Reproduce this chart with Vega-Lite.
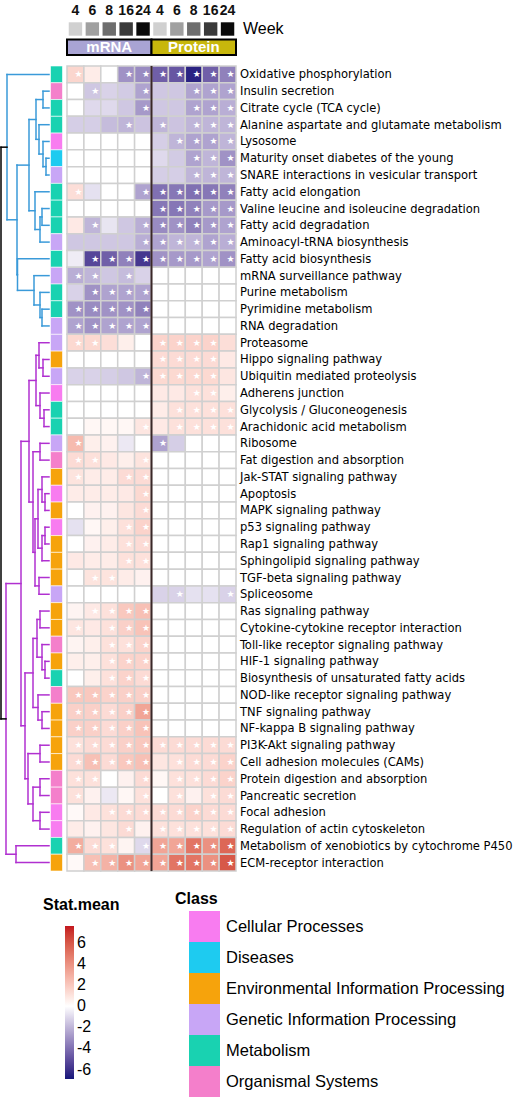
{
"$schema": "https://vega.github.io/schema/vega-lite/v6.json",
"width": 520, "height": 1098, "padding": 0, "autosize": {"type": "none"},
"background": "white",
"config": {"view": {"stroke": null}, "font": "Liberation Sans"},
"datasets": {
"paths": [
{"i":1,"p":"Oxidative phosphorylation","c":"Metabolism"},
{"i":2,"p":"Insulin secretion","c":"Organismal Systems"},
{"i":3,"p":"Citrate cycle (TCA cycle)","c":"Metabolism"},
{"i":4,"p":"Alanine  aspartate and glutamate metabolism","c":"Metabolism"},
{"i":5,"p":"Lysosome","c":"Cellular Processes"},
{"i":6,"p":"Maturity onset diabetes of the young","c":"Diseases"},
{"i":7,"p":"SNARE interactions in vesicular transport","c":"Genetic Information Processing"},
{"i":8,"p":"Fatty acid elongation","c":"Metabolism"},
{"i":9,"p":"Valine leucine and isoleucine degradation","c":"Metabolism"},
{"i":10,"p":"Fatty acid degradation","c":"Metabolism"},
{"i":11,"p":"Aminoacyl-tRNA biosynthesis","c":"Genetic Information Processing"},
{"i":12,"p":"Fatty acid biosynthesis","c":"Metabolism"},
{"i":13,"p":"mRNA surveillance pathway","c":"Genetic Information Processing"},
{"i":14,"p":"Purine metabolism","c":"Metabolism"},
{"i":15,"p":"Pyrimidine metabolism","c":"Metabolism"},
{"i":16,"p":"RNA degradation","c":"Genetic Information Processing"},
{"i":17,"p":"Proteasome","c":"Genetic Information Processing"},
{"i":18,"p":"Hippo signaling pathway","c":"Environmental Information Processing"},
{"i":19,"p":"Ubiquitin mediated proteolysis","c":"Genetic Information Processing"},
{"i":20,"p":"Adherens junction","c":"Cellular Processes"},
{"i":21,"p":"Glycolysis / Gluconeogenesis","c":"Metabolism"},
{"i":22,"p":"Arachidonic acid metabolism","c":"Metabolism"},
{"i":23,"p":"Ribosome","c":"Genetic Information Processing"},
{"i":24,"p":"Fat digestion and absorption","c":"Organismal Systems"},
{"i":25,"p":"Jak-STAT signaling pathway","c":"Environmental Information Processing"},
{"i":26,"p":"Apoptosis","c":"Cellular Processes"},
{"i":27,"p":"MAPK signaling pathway","c":"Environmental Information Processing"},
{"i":28,"p":"p53 signaling pathway","c":"Cellular Processes"},
{"i":29,"p":"Rap1 signaling pathway","c":"Environmental Information Processing"},
{"i":30,"p":"Sphingolipid signaling pathway","c":"Environmental Information Processing"},
{"i":31,"p":"TGF-beta signaling pathway","c":"Environmental Information Processing"},
{"i":32,"p":"Spliceosome","c":"Genetic Information Processing"},
{"i":33,"p":"Ras signaling pathway","c":"Environmental Information Processing"},
{"i":34,"p":"Cytokine-cytokine receptor interaction","c":"Environmental Information Processing"},
{"i":35,"p":"Toll-like receptor signaling pathway","c":"Organismal Systems"},
{"i":36,"p":"HIF-1 signaling pathway","c":"Environmental Information Processing"},
{"i":37,"p":"Biosynthesis of unsaturated fatty acids","c":"Metabolism"},
{"i":38,"p":"NOD-like receptor signaling pathway","c":"Organismal Systems"},
{"i":39,"p":"TNF signaling pathway","c":"Environmental Information Processing"},
{"i":40,"p":"NF-kappa B signaling pathway","c":"Environmental Information Processing"},
{"i":41,"p":"PI3K-Akt signaling pathway","c":"Environmental Information Processing"},
{"i":42,"p":"Cell adhesion molecules (CAMs)","c":"Environmental Information Processing"},
{"i":43,"p":"Protein digestion and absorption","c":"Organismal Systems"},
{"i":44,"p":"Pancreatic secretion","c":"Organismal Systems"},
{"i":45,"p":"Focal adhesion","c":"Cellular Processes"},
{"i":46,"p":"Regulation of actin cytoskeleton","c":"Cellular Processes"},
{"i":47,"p":"Metabolism of xenobiotics by cytochrome P450","c":"Metabolism"},
{"i":48,"p":"ECM-receptor interaction","c":"Environmental Information Processing"}
],
"weeks": [
{"a":"mRNA","w":4},{"a":"mRNA","w":6},{"a":"mRNA","w":8},{"a":"mRNA","w":16},{"a":"mRNA","w":24},
{"a":"Protein","w":4},{"a":"Protein","w":6},{"a":"Protein","w":8},{"a":"Protein","w":16},{"a":"Protein","w":24}
],
"assays": [{"a":"mRNA"},{"a":"Protein"}],
"dendro": [
{"h1":6,"h2":6,"u1":1.5,"u2":2.5,"k":"A"},{"h1":6,"h2":0,"u1":1.5,"u2":1.5,"k":"A"},{"h1":6,"h2":0,"u1":2.5,"u2":2.5,"k":"A"},
{"h1":3,"h2":3,"u1":5.5,"u2":6.5,"k":"A"},{"h1":3,"h2":0,"u1":5.5,"u2":5.5,"k":"A"},{"h1":3,"h2":0,"u1":6.5,"u2":6.5,"k":"A"},
{"h1":6,"h2":6,"u1":4.5,"u2":6,"k":"A"},{"h1":6,"h2":0,"u1":4.5,"u2":4.5,"k":"A"},{"h1":6,"h2":3,"u1":6,"u2":6,"k":"A"},
{"h1":10,"h2":10,"u1":3.5,"u2":5.25,"k":"A"},{"h1":10,"h2":0,"u1":3.5,"u2":3.5,"k":"A"},{"h1":10,"h2":6,"u1":5.25,"u2":5.25,"k":"A"},
{"h1":13,"h2":13,"u1":2,"u2":4.375,"k":"A"},{"h1":13,"h2":6,"u1":2,"u2":2,"k":"A"},{"h1":13,"h2":10,"u1":4.375,"u2":4.375,"k":"A"},
{"h1":7,"h2":7,"u1":8.5,"u2":9.5,"k":"A"},{"h1":7,"h2":0,"u1":8.5,"u2":8.5,"k":"A"},{"h1":7,"h2":0,"u1":9.5,"u2":9.5,"k":"A"},
{"h1":9,"h2":9,"u1":9,"u2":10.5,"k":"A"},{"h1":9,"h2":7,"u1":9,"u2":9,"k":"A"},{"h1":9,"h2":0,"u1":10.5,"u2":10.5,"k":"A"},
{"h1":14,"h2":14,"u1":7.5,"u2":9.75,"k":"A"},{"h1":14,"h2":0,"u1":7.5,"u2":7.5,"k":"A"},{"h1":14,"h2":9,"u1":9.75,"u2":9.75,"k":"A"},
{"h1":20,"h2":20,"u1":3.19,"u2":8.63,"k":"A"},{"h1":20,"h2":13,"u1":3.19,"u2":3.19,"k":"A"},{"h1":20,"h2":14,"u1":8.63,"u2":8.63,"k":"A"},
{"h1":7,"h2":7,"u1":14.5,"u2":15.5,"k":"A"},{"h1":7,"h2":0,"u1":14.5,"u2":14.5,"k":"A"},{"h1":7,"h2":0,"u1":15.5,"u2":15.5,"k":"A"},
{"h1":9,"h2":9,"u1":13.5,"u2":15,"k":"A"},{"h1":9,"h2":0,"u1":13.5,"u2":13.5,"k":"A"},{"h1":9,"h2":7,"u1":15,"u2":15,"k":"A"},
{"h1":15,"h2":15,"u1":12.5,"u2":14.25,"k":"A"},{"h1":15,"h2":0,"u1":12.5,"u2":12.5,"k":"A"},{"h1":15,"h2":9,"u1":14.25,"u2":14.25,"k":"A"},
{"h1":31.5,"h2":31.5,"u1":11.5,"u2":13.38,"k":"A"},{"h1":31.5,"h2":0,"u1":11.5,"u2":11.5,"k":"A"},{"h1":31.5,"h2":15,"u1":13.38,"u2":13.38,"k":"A"},
{"h1":32,"h2":32,"u1":5.91,"u2":12.44,"k":"A"},{"h1":32,"h2":20,"u1":5.91,"u2":5.91,"k":"A"},{"h1":32,"h2":31.5,"u1":12.44,"u2":12.44,"k":"A"},
{"h1":42,"h2":42,"u1":0.5,"u2":9.17,"k":"A"},{"h1":42,"h2":0,"u1":0.5,"u2":0.5,"k":"A"},{"h1":42,"h2":32,"u1":9.17,"u2":9.17,"k":"A"},
{"h1":6,"h2":6,"u1":17.5,"u2":18.5,"k":"B"},{"h1":6,"h2":0,"u1":17.5,"u2":17.5,"k":"B"},{"h1":6,"h2":0,"u1":18.5,"u2":18.5,"k":"B"},
{"h1":10,"h2":10,"u1":16.5,"u2":18,"k":"B"},{"h1":10,"h2":0,"u1":16.5,"u2":16.5,"k":"B"},{"h1":10,"h2":6,"u1":18,"u2":18,"k":"B"},
{"h1":5,"h2":5,"u1":20.5,"u2":21.5,"k":"B"},{"h1":5,"h2":0,"u1":20.5,"u2":20.5,"k":"B"},{"h1":5,"h2":0,"u1":21.5,"u2":21.5,"k":"B"},
{"h1":9,"h2":9,"u1":19.5,"u2":21,"k":"B"},{"h1":9,"h2":0,"u1":19.5,"u2":19.5,"k":"B"},{"h1":9,"h2":5,"u1":21,"u2":21,"k":"B"},
{"h1":13,"h2":13,"u1":17.25,"u2":20.25,"k":"B"},{"h1":13,"h2":10,"u1":17.25,"u2":17.25,"k":"B"},{"h1":13,"h2":9,"u1":20.25,"u2":20.25,"k":"B"},
{"h1":9,"h2":9,"u1":22.5,"u2":23.5,"k":"B"},{"h1":9,"h2":0,"u1":22.5,"u2":22.5,"k":"B"},{"h1":9,"h2":0,"u1":23.5,"u2":23.5,"k":"B"},
{"h1":4,"h2":4,"u1":25.5,"u2":26.5,"k":"B"},{"h1":4,"h2":0,"u1":25.5,"u2":25.5,"k":"B"},{"h1":4,"h2":0,"u1":26.5,"u2":26.5,"k":"B"},
{"h1":7,"h2":7,"u1":24.5,"u2":26,"k":"B"},{"h1":7,"h2":0,"u1":24.5,"u2":24.5,"k":"B"},{"h1":7,"h2":4,"u1":26,"u2":26,"k":"B"},
{"h1":4,"h2":4,"u1":27.5,"u2":28.5,"k":"B"},{"h1":4,"h2":0,"u1":27.5,"u2":27.5,"k":"B"},{"h1":4,"h2":0,"u1":28.5,"u2":28.5,"k":"B"},
{"h1":7,"h2":7,"u1":28,"u2":29.5,"k":"B"},{"h1":7,"h2":4,"u1":28,"u2":28,"k":"B"},{"h1":7,"h2":0,"u1":29.5,"u2":29.5,"k":"B"},
{"h1":11,"h2":11,"u1":25.25,"u2":28.75,"k":"B"},{"h1":11,"h2":7,"u1":25.25,"u2":25.25,"k":"B"},{"h1":11,"h2":7,"u1":28.75,"u2":28.75,"k":"B"},
{"h1":10,"h2":10,"u1":30.5,"u2":31.5,"k":"B"},{"h1":10,"h2":0,"u1":30.5,"u2":30.5,"k":"B"},{"h1":10,"h2":0,"u1":31.5,"u2":31.5,"k":"B"},
{"h1":14,"h2":14,"u1":27,"u2":31,"k":"B"},{"h1":14,"h2":11,"u1":27,"u2":27,"k":"B"},{"h1":14,"h2":10,"u1":31,"u2":31,"k":"B"},
{"h1":16,"h2":16,"u1":23,"u2":29,"k":"B"},{"h1":16,"h2":9,"u1":23,"u2":23,"k":"B"},{"h1":16,"h2":14,"u1":29,"u2":29,"k":"B"},
{"h1":20,"h2":20,"u1":18.75,"u2":26,"k":"B"},{"h1":20,"h2":13,"u1":18.75,"u2":18.75,"k":"B"},{"h1":20,"h2":16,"u1":26,"u2":26,"k":"B"},
{"h1":9,"h2":9,"u1":32.5,"u2":33.5,"k":"B"},{"h1":9,"h2":0,"u1":32.5,"u2":32.5,"k":"B"},{"h1":9,"h2":0,"u1":33.5,"u2":33.5,"k":"B"},
{"h1":4,"h2":4,"u1":35.5,"u2":36.5,"k":"B"},{"h1":4,"h2":0,"u1":35.5,"u2":35.5,"k":"B"},{"h1":4,"h2":0,"u1":36.5,"u2":36.5,"k":"B"},
{"h1":7,"h2":7,"u1":34.5,"u2":36,"k":"B"},{"h1":7,"h2":0,"u1":34.5,"u2":34.5,"k":"B"},{"h1":7,"h2":4,"u1":36,"u2":36,"k":"B"},
{"h1":12,"h2":12,"u1":33,"u2":35.25,"k":"B"},{"h1":12,"h2":9,"u1":33,"u2":33,"k":"B"},{"h1":12,"h2":7,"u1":35.25,"u2":35.25,"k":"B"},
{"h1":7,"h2":7,"u1":38.5,"u2":39.5,"k":"B"},{"h1":7,"h2":0,"u1":38.5,"u2":38.5,"k":"B"},{"h1":7,"h2":0,"u1":39.5,"u2":39.5,"k":"B"},
{"h1":11,"h2":11,"u1":37.5,"u2":39,"k":"B"},{"h1":11,"h2":0,"u1":37.5,"u2":37.5,"k":"B"},{"h1":11,"h2":7,"u1":39,"u2":39,"k":"B"},
{"h1":16,"h2":16,"u1":34.13,"u2":38.25,"k":"B"},{"h1":16,"h2":12,"u1":34.13,"u2":34.13,"k":"B"},{"h1":16,"h2":11,"u1":38.25,"u2":38.25,"k":"B"},
{"h1":9,"h2":9,"u1":40.5,"u2":41.5,"k":"B"},{"h1":9,"h2":0,"u1":40.5,"u2":40.5,"k":"B"},{"h1":9,"h2":0,"u1":41.5,"u2":41.5,"k":"B"},
{"h1":9,"h2":9,"u1":42.5,"u2":43.5,"k":"B"},{"h1":9,"h2":0,"u1":42.5,"u2":42.5,"k":"B"},{"h1":9,"h2":0,"u1":43.5,"u2":43.5,"k":"B"},
{"h1":9,"h2":9,"u1":44.5,"u2":45.5,"k":"B"},{"h1":9,"h2":0,"u1":44.5,"u2":44.5,"k":"B"},{"h1":9,"h2":0,"u1":45.5,"u2":45.5,"k":"B"},
{"h1":16,"h2":16,"u1":43,"u2":45,"k":"B"},{"h1":16,"h2":9,"u1":43,"u2":43,"k":"B"},{"h1":16,"h2":9,"u1":45,"u2":45,"k":"B"},
{"h1":21,"h2":21,"u1":41,"u2":44,"k":"B"},{"h1":21,"h2":9,"u1":41,"u2":41,"k":"B"},{"h1":21,"h2":16,"u1":44,"u2":44,"k":"B"},
{"h1":24,"h2":24,"u1":36.19,"u2":42.5,"k":"B"},{"h1":24,"h2":16,"u1":36.19,"u2":36.19,"k":"B"},{"h1":24,"h2":21,"u1":42.5,"u2":42.5,"k":"B"},
{"h1":28,"h2":28,"u1":22.38,"u2":39.34,"k":"B"},{"h1":28,"h2":20,"u1":22.38,"u2":22.38,"k":"B"},{"h1":28,"h2":24,"u1":39.34,"u2":39.34,"k":"B"},
{"h1":33,"h2":33,"u1":46.5,"u2":47.5,"k":"B"},{"h1":33,"h2":0,"u1":46.5,"u2":46.5,"k":"B"},{"h1":33,"h2":0,"u1":47.5,"u2":47.5,"k":"B"},
{"h1":43,"h2":43,"u1":30.86,"u2":47,"k":"B"},{"h1":43,"h2":28,"u1":30.86,"u2":30.86,"k":"B"},{"h1":43,"h2":33,"u1":47,"u2":47,"k":"B"},
{"h1":48,"h2":48,"u1":4.84,"u2":38.93,"k":"R"},{"h1":48,"h2":42,"u1":4.84,"u2":4.84,"k":"R"},{"h1":48,"h2":43,"u1":38.93,"u2":38.93,"k":"R"}
],
"cells": [
{"i":1,"a":"mRNA","w":4,"v":1.5,"s":1},{"i":1,"a":"mRNA","w":6,"v":0.7,"s":0},{"i":1,"a":"mRNA","w":8,"v":0,"s":0},{"i":1,"a":"mRNA","w":16,"v":-3,"s":1},{"i":1,"a":"mRNA","w":24,"v":-3.2,"s":1},
{"i":1,"a":"Protein","w":4,"v":-4.5,"s":1},{"i":1,"a":"Protein","w":6,"v":-4.8,"s":1},{"i":1,"a":"Protein","w":8,"v":-6.5,"s":1},{"i":1,"a":"Protein","w":16,"v":-4.5,"s":1},{"i":1,"a":"Protein","w":24,"v":-3.5,"s":1},
{"i":2,"a":"mRNA","w":4,"v":0,"s":0},{"i":2,"a":"mRNA","w":6,"v":-1.5,"s":1},{"i":2,"a":"mRNA","w":8,"v":-1.2,"s":0},{"i":2,"a":"mRNA","w":16,"v":-1.4,"s":0},{"i":2,"a":"mRNA","w":24,"v":-2.5,"s":1},
{"i":2,"a":"Protein","w":4,"v":-1.5,"s":0},{"i":2,"a":"Protein","w":6,"v":-1.5,"s":0},{"i":2,"a":"Protein","w":8,"v":-2.5,"s":1},{"i":2,"a":"Protein","w":16,"v":-2.5,"s":1},{"i":2,"a":"Protein","w":24,"v":-2.5,"s":1},
{"i":3,"a":"mRNA","w":4,"v":0,"s":0},{"i":3,"a":"mRNA","w":6,"v":-1,"s":0},{"i":3,"a":"mRNA","w":8,"v":-1,"s":0},{"i":3,"a":"mRNA","w":16,"v":-1.5,"s":0},{"i":3,"a":"mRNA","w":24,"v":-2.8,"s":1},
{"i":3,"a":"Protein","w":4,"v":-1.5,"s":0},{"i":3,"a":"Protein","w":6,"v":-1.5,"s":0},{"i":3,"a":"Protein","w":8,"v":-2.5,"s":1},{"i":3,"a":"Protein","w":16,"v":-2.5,"s":1},{"i":3,"a":"Protein","w":24,"v":-2.2,"s":1},
{"i":4,"a":"mRNA","w":4,"v":-1.3,"s":0},{"i":4,"a":"mRNA","w":6,"v":-1.3,"s":0},{"i":4,"a":"mRNA","w":8,"v":-1.8,"s":0},{"i":4,"a":"mRNA","w":16,"v":-2,"s":1},{"i":4,"a":"mRNA","w":24,"v":-1.6,"s":0},
{"i":4,"a":"Protein","w":4,"v":-2,"s":1},{"i":4,"a":"Protein","w":6,"v":-1.6,"s":0},{"i":4,"a":"Protein","w":8,"v":-2,"s":1},{"i":4,"a":"Protein","w":16,"v":-2,"s":1},{"i":4,"a":"Protein","w":24,"v":-2,"s":1},
{"i":5,"a":"mRNA","w":4,"v":0,"s":0},{"i":5,"a":"mRNA","w":6,"v":0,"s":0},{"i":5,"a":"mRNA","w":8,"v":0,"s":0},{"i":5,"a":"mRNA","w":16,"v":0,"s":0},{"i":5,"a":"mRNA","w":24,"v":0,"s":0},
{"i":5,"a":"Protein","w":4,"v":-1.3,"s":0},{"i":5,"a":"Protein","w":6,"v":-2,"s":1},{"i":5,"a":"Protein","w":8,"v":-2.5,"s":1},{"i":5,"a":"Protein","w":16,"v":-2.5,"s":1},{"i":5,"a":"Protein","w":24,"v":-2,"s":1},
{"i":6,"a":"mRNA","w":4,"v":0,"s":0},{"i":6,"a":"mRNA","w":6,"v":0,"s":0},{"i":6,"a":"mRNA","w":8,"v":0,"s":0},{"i":6,"a":"mRNA","w":16,"v":0,"s":0},{"i":6,"a":"mRNA","w":24,"v":0,"s":0},
{"i":6,"a":"Protein","w":4,"v":-1,"s":0},{"i":6,"a":"Protein","w":6,"v":-1.4,"s":0},{"i":6,"a":"Protein","w":8,"v":-2.5,"s":1},{"i":6,"a":"Protein","w":16,"v":-2,"s":1},{"i":6,"a":"Protein","w":24,"v":-3,"s":1},
{"i":7,"a":"mRNA","w":4,"v":0,"s":0},{"i":7,"a":"mRNA","w":6,"v":0,"s":0},{"i":7,"a":"mRNA","w":8,"v":0,"s":0},{"i":7,"a":"mRNA","w":16,"v":0,"s":0},{"i":7,"a":"mRNA","w":24,"v":0,"s":0},
{"i":7,"a":"Protein","w":4,"v":-1.3,"s":0},{"i":7,"a":"Protein","w":6,"v":-1.3,"s":0},{"i":7,"a":"Protein","w":8,"v":-2,"s":1},{"i":7,"a":"Protein","w":16,"v":-2,"s":1},{"i":7,"a":"Protein","w":24,"v":-2,"s":1},
{"i":8,"a":"mRNA","w":4,"v":1.2,"s":1},{"i":8,"a":"mRNA","w":6,"v":-0.8,"s":0},{"i":8,"a":"mRNA","w":8,"v":0,"s":0},{"i":8,"a":"mRNA","w":16,"v":0,"s":0},{"i":8,"a":"mRNA","w":24,"v":-2.5,"s":1},
{"i":8,"a":"Protein","w":4,"v":-4,"s":1},{"i":8,"a":"Protein","w":6,"v":-3.8,"s":1},{"i":8,"a":"Protein","w":8,"v":-4,"s":1},{"i":8,"a":"Protein","w":16,"v":-3.8,"s":1},{"i":8,"a":"Protein","w":24,"v":-3.5,"s":1},
{"i":9,"a":"mRNA","w":4,"v":0,"s":0},{"i":9,"a":"mRNA","w":6,"v":0,"s":0},{"i":9,"a":"mRNA","w":8,"v":0,"s":0},{"i":9,"a":"mRNA","w":16,"v":0,"s":0},{"i":9,"a":"mRNA","w":24,"v":0,"s":0},
{"i":9,"a":"Protein","w":4,"v":-3.8,"s":1},{"i":9,"a":"Protein","w":6,"v":-3.8,"s":1},{"i":9,"a":"Protein","w":8,"v":-3.5,"s":1},{"i":9,"a":"Protein","w":16,"v":-2.8,"s":1},{"i":9,"a":"Protein","w":24,"v":-2.8,"s":1},
{"i":10,"a":"mRNA","w":4,"v":0.8,"s":0},{"i":10,"a":"mRNA","w":6,"v":-2,"s":1},{"i":10,"a":"mRNA","w":8,"v":-0.7,"s":0},{"i":10,"a":"mRNA","w":16,"v":-1.5,"s":0},{"i":10,"a":"mRNA","w":24,"v":-2.2,"s":1},
{"i":10,"a":"Protein","w":4,"v":-3.2,"s":1},{"i":10,"a":"Protein","w":6,"v":-3,"s":1},{"i":10,"a":"Protein","w":8,"v":-3.5,"s":1},{"i":10,"a":"Protein","w":16,"v":-2.8,"s":1},{"i":10,"a":"Protein","w":24,"v":-2.5,"s":1},
{"i":11,"a":"mRNA","w":4,"v":-1.5,"s":0},{"i":11,"a":"mRNA","w":6,"v":-1.5,"s":0},{"i":11,"a":"mRNA","w":8,"v":-1.5,"s":0},{"i":11,"a":"mRNA","w":16,"v":-1.5,"s":0},{"i":11,"a":"mRNA","w":24,"v":-2.2,"s":1},
{"i":11,"a":"Protein","w":4,"v":-2.5,"s":1},{"i":11,"a":"Protein","w":6,"v":-2,"s":1},{"i":11,"a":"Protein","w":8,"v":-2,"s":1},{"i":11,"a":"Protein","w":16,"v":-2.5,"s":1},{"i":11,"a":"Protein","w":24,"v":-2.2,"s":1},
{"i":12,"a":"mRNA","w":4,"v":-0.5,"s":0},{"i":12,"a":"mRNA","w":6,"v":-5.3,"s":1},{"i":12,"a":"mRNA","w":8,"v":-4.5,"s":1},{"i":12,"a":"mRNA","w":16,"v":-3.5,"s":1},{"i":12,"a":"mRNA","w":24,"v":-5.8,"s":1},
{"i":12,"a":"Protein","w":4,"v":-3,"s":1},{"i":12,"a":"Protein","w":6,"v":-2.8,"s":1},{"i":12,"a":"Protein","w":8,"v":-2.8,"s":1},{"i":12,"a":"Protein","w":16,"v":-2.5,"s":1},{"i":12,"a":"Protein","w":24,"v":-3,"s":1},
{"i":13,"a":"mRNA","w":4,"v":-2.2,"s":1},{"i":13,"a":"mRNA","w":6,"v":-2,"s":1},{"i":13,"a":"mRNA","w":8,"v":-1.5,"s":0},{"i":13,"a":"mRNA","w":16,"v":-1.8,"s":1},{"i":13,"a":"mRNA","w":24,"v":-1.2,"s":0},
{"i":13,"a":"Protein","w":4,"v":0,"s":0},{"i":13,"a":"Protein","w":6,"v":0,"s":0},{"i":13,"a":"Protein","w":8,"v":0,"s":0},{"i":13,"a":"Protein","w":16,"v":0,"s":0},{"i":13,"a":"Protein","w":24,"v":0,"s":0},
{"i":14,"a":"mRNA","w":4,"v":-1.2,"s":0},{"i":14,"a":"mRNA","w":6,"v":-3,"s":1},{"i":14,"a":"mRNA","w":8,"v":-2.5,"s":1},{"i":14,"a":"mRNA","w":16,"v":-2.5,"s":1},{"i":14,"a":"mRNA","w":24,"v":-2.5,"s":1},
{"i":14,"a":"Protein","w":4,"v":0,"s":0},{"i":14,"a":"Protein","w":6,"v":0,"s":0},{"i":14,"a":"Protein","w":8,"v":0,"s":0},{"i":14,"a":"Protein","w":16,"v":0,"s":0},{"i":14,"a":"Protein","w":24,"v":0,"s":0},
{"i":15,"a":"mRNA","w":4,"v":-3,"s":1},{"i":15,"a":"mRNA","w":6,"v":-3.2,"s":1},{"i":15,"a":"mRNA","w":8,"v":-3,"s":1},{"i":15,"a":"mRNA","w":16,"v":-3,"s":1},{"i":15,"a":"mRNA","w":24,"v":-3.5,"s":1},
{"i":15,"a":"Protein","w":4,"v":0,"s":0},{"i":15,"a":"Protein","w":6,"v":0,"s":0},{"i":15,"a":"Protein","w":8,"v":0,"s":0},{"i":15,"a":"Protein","w":16,"v":0,"s":0},{"i":15,"a":"Protein","w":24,"v":0,"s":0},
{"i":16,"a":"mRNA","w":4,"v":-2.5,"s":1},{"i":16,"a":"mRNA","w":6,"v":-3,"s":1},{"i":16,"a":"mRNA","w":8,"v":-2.5,"s":1},{"i":16,"a":"mRNA","w":16,"v":-2.5,"s":1},{"i":16,"a":"mRNA","w":24,"v":-2.5,"s":1},
{"i":16,"a":"Protein","w":4,"v":0,"s":0},{"i":16,"a":"Protein","w":6,"v":0,"s":0},{"i":16,"a":"Protein","w":8,"v":0,"s":0},{"i":16,"a":"Protein","w":16,"v":0,"s":0},{"i":16,"a":"Protein","w":24,"v":0,"s":0},
{"i":17,"a":"mRNA","w":4,"v":1.4,"s":1},{"i":17,"a":"mRNA","w":6,"v":1.4,"s":1},{"i":17,"a":"mRNA","w":8,"v":1.2,"s":0},{"i":17,"a":"mRNA","w":16,"v":0.6,"s":0},{"i":17,"a":"mRNA","w":24,"v":0,"s":0},
{"i":17,"a":"Protein","w":4,"v":1.6,"s":1},{"i":17,"a":"Protein","w":6,"v":1.6,"s":1},{"i":17,"a":"Protein","w":8,"v":1.6,"s":1},{"i":17,"a":"Protein","w":16,"v":1.6,"s":1},{"i":17,"a":"Protein","w":24,"v":1.2,"s":0},
{"i":18,"a":"mRNA","w":4,"v":0,"s":0},{"i":18,"a":"mRNA","w":6,"v":0,"s":0},{"i":18,"a":"mRNA","w":8,"v":0,"s":0},{"i":18,"a":"mRNA","w":16,"v":0,"s":0},{"i":18,"a":"mRNA","w":24,"v":0,"s":0},
{"i":18,"a":"Protein","w":4,"v":1.3,"s":1},{"i":18,"a":"Protein","w":6,"v":1.3,"s":1},{"i":18,"a":"Protein","w":8,"v":1.3,"s":1},{"i":18,"a":"Protein","w":16,"v":1.3,"s":1},{"i":18,"a":"Protein","w":24,"v":0.8,"s":0},
{"i":19,"a":"mRNA","w":4,"v":-1.2,"s":0},{"i":19,"a":"mRNA","w":6,"v":-1.2,"s":0},{"i":19,"a":"mRNA","w":8,"v":-1.3,"s":0},{"i":19,"a":"mRNA","w":16,"v":-1.5,"s":0},{"i":19,"a":"mRNA","w":24,"v":-2,"s":1},
{"i":19,"a":"Protein","w":4,"v":1.4,"s":1},{"i":19,"a":"Protein","w":6,"v":1.4,"s":1},{"i":19,"a":"Protein","w":8,"v":1.4,"s":1},{"i":19,"a":"Protein","w":16,"v":1.4,"s":1},{"i":19,"a":"Protein","w":24,"v":0.9,"s":0},
{"i":20,"a":"mRNA","w":4,"v":0,"s":0},{"i":20,"a":"mRNA","w":6,"v":0,"s":0},{"i":20,"a":"mRNA","w":8,"v":0,"s":0},{"i":20,"a":"mRNA","w":16,"v":0,"s":0},{"i":20,"a":"mRNA","w":24,"v":0,"s":0},
{"i":20,"a":"Protein","w":4,"v":0.8,"s":0},{"i":20,"a":"Protein","w":6,"v":0.8,"s":0},{"i":20,"a":"Protein","w":8,"v":1.1,"s":1},{"i":20,"a":"Protein","w":16,"v":1.1,"s":1},{"i":20,"a":"Protein","w":24,"v":0.6,"s":0},
{"i":21,"a":"mRNA","w":4,"v":0,"s":0},{"i":21,"a":"mRNA","w":6,"v":0,"s":0},{"i":21,"a":"mRNA","w":8,"v":0,"s":0},{"i":21,"a":"mRNA","w":16,"v":0,"s":0},{"i":21,"a":"mRNA","w":24,"v":0,"s":0},
{"i":21,"a":"Protein","w":4,"v":0.7,"s":0},{"i":21,"a":"Protein","w":6,"v":1.1,"s":1},{"i":21,"a":"Protein","w":8,"v":1.1,"s":1},{"i":21,"a":"Protein","w":16,"v":1.1,"s":1},{"i":21,"a":"Protein","w":24,"v":1.1,"s":1},
{"i":22,"a":"mRNA","w":4,"v":0,"s":0},{"i":22,"a":"mRNA","w":6,"v":0.3,"s":0},{"i":22,"a":"mRNA","w":8,"v":0.3,"s":0},{"i":22,"a":"mRNA","w":16,"v":0.3,"s":0},{"i":22,"a":"mRNA","w":24,"v":0.9,"s":1},
{"i":22,"a":"Protein","w":4,"v":0.8,"s":0},{"i":22,"a":"Protein","w":6,"v":1.1,"s":1},{"i":22,"a":"Protein","w":8,"v":1.1,"s":1},{"i":22,"a":"Protein","w":16,"v":1.1,"s":1},{"i":22,"a":"Protein","w":24,"v":1.1,"s":1},
{"i":23,"a":"mRNA","w":4,"v":2.5,"s":1},{"i":23,"a":"mRNA","w":6,"v":0.6,"s":0},{"i":23,"a":"mRNA","w":8,"v":0.5,"s":0},{"i":23,"a":"mRNA","w":16,"v":-0.6,"s":0},{"i":23,"a":"mRNA","w":24,"v":0,"s":0},
{"i":23,"a":"Protein","w":4,"v":-2.5,"s":1},{"i":23,"a":"Protein","w":6,"v":-1.3,"s":0},{"i":23,"a":"Protein","w":8,"v":0,"s":0},{"i":23,"a":"Protein","w":16,"v":0,"s":0},{"i":23,"a":"Protein","w":24,"v":0,"s":0},
{"i":24,"a":"mRNA","w":4,"v":1.3,"s":1},{"i":24,"a":"mRNA","w":6,"v":1.1,"s":1},{"i":24,"a":"mRNA","w":8,"v":0.8,"s":0},{"i":24,"a":"mRNA","w":16,"v":0.6,"s":0},{"i":24,"a":"mRNA","w":24,"v":1,"s":1},
{"i":24,"a":"Protein","w":4,"v":0,"s":0},{"i":24,"a":"Protein","w":6,"v":0,"s":0},{"i":24,"a":"Protein","w":8,"v":0,"s":0},{"i":24,"a":"Protein","w":16,"v":0,"s":0},{"i":24,"a":"Protein","w":24,"v":0,"s":0},
{"i":25,"a":"mRNA","w":4,"v":1,"s":1},{"i":25,"a":"mRNA","w":6,"v":0.7,"s":0},{"i":25,"a":"mRNA","w":8,"v":0.7,"s":0},{"i":25,"a":"mRNA","w":16,"v":1.3,"s":1},{"i":25,"a":"mRNA","w":24,"v":1.3,"s":1},
{"i":25,"a":"Protein","w":4,"v":0,"s":0},{"i":25,"a":"Protein","w":6,"v":0,"s":0},{"i":25,"a":"Protein","w":8,"v":0,"s":0},{"i":25,"a":"Protein","w":16,"v":0,"s":0},{"i":25,"a":"Protein","w":24,"v":0,"s":0},
{"i":26,"a":"mRNA","w":4,"v":0.7,"s":0},{"i":26,"a":"mRNA","w":6,"v":0.7,"s":0},{"i":26,"a":"mRNA","w":8,"v":0.7,"s":0},{"i":26,"a":"mRNA","w":16,"v":0.8,"s":0},{"i":26,"a":"mRNA","w":24,"v":1.4,"s":1},
{"i":26,"a":"Protein","w":4,"v":0,"s":0},{"i":26,"a":"Protein","w":6,"v":0,"s":0},{"i":26,"a":"Protein","w":8,"v":0,"s":0},{"i":26,"a":"Protein","w":16,"v":0,"s":0},{"i":26,"a":"Protein","w":24,"v":0,"s":0},
{"i":27,"a":"mRNA","w":4,"v":0,"s":0},{"i":27,"a":"mRNA","w":6,"v":0.5,"s":0},{"i":27,"a":"mRNA","w":8,"v":0.5,"s":0},{"i":27,"a":"mRNA","w":16,"v":0.9,"s":0},{"i":27,"a":"mRNA","w":24,"v":1.3,"s":1},
{"i":27,"a":"Protein","w":4,"v":0,"s":0},{"i":27,"a":"Protein","w":6,"v":0,"s":0},{"i":27,"a":"Protein","w":8,"v":0,"s":0},{"i":27,"a":"Protein","w":16,"v":0,"s":0},{"i":27,"a":"Protein","w":24,"v":0,"s":0},
{"i":28,"a":"mRNA","w":4,"v":-0.8,"s":0},{"i":28,"a":"mRNA","w":6,"v":0.3,"s":0},{"i":28,"a":"mRNA","w":8,"v":0.6,"s":0},{"i":28,"a":"mRNA","w":16,"v":1.1,"s":1},{"i":28,"a":"mRNA","w":24,"v":1.6,"s":1},
{"i":28,"a":"Protein","w":4,"v":0,"s":0},{"i":28,"a":"Protein","w":6,"v":0,"s":0},{"i":28,"a":"Protein","w":8,"v":0,"s":0},{"i":28,"a":"Protein","w":16,"v":0,"s":0},{"i":28,"a":"Protein","w":24,"v":0,"s":0},
{"i":29,"a":"mRNA","w":4,"v":0,"s":0},{"i":29,"a":"mRNA","w":6,"v":0.5,"s":0},{"i":29,"a":"mRNA","w":8,"v":0.7,"s":0},{"i":29,"a":"mRNA","w":16,"v":1.1,"s":1},{"i":29,"a":"mRNA","w":24,"v":1.3,"s":1},
{"i":29,"a":"Protein","w":4,"v":0,"s":0},{"i":29,"a":"Protein","w":6,"v":0,"s":0},{"i":29,"a":"Protein","w":8,"v":0,"s":0},{"i":29,"a":"Protein","w":16,"v":0,"s":0},{"i":29,"a":"Protein","w":24,"v":0,"s":0},
{"i":30,"a":"mRNA","w":4,"v":0.8,"s":0},{"i":30,"a":"mRNA","w":6,"v":0.7,"s":0},{"i":30,"a":"mRNA","w":8,"v":0.7,"s":0},{"i":30,"a":"mRNA","w":16,"v":1.1,"s":1},{"i":30,"a":"mRNA","w":24,"v":1.1,"s":1},
{"i":30,"a":"Protein","w":4,"v":0,"s":0},{"i":30,"a":"Protein","w":6,"v":0,"s":0},{"i":30,"a":"Protein","w":8,"v":0,"s":0},{"i":30,"a":"Protein","w":16,"v":0,"s":0},{"i":30,"a":"Protein","w":24,"v":0,"s":0},
{"i":31,"a":"mRNA","w":4,"v":0,"s":0},{"i":31,"a":"mRNA","w":6,"v":1,"s":1},{"i":31,"a":"mRNA","w":8,"v":1,"s":1},{"i":31,"a":"mRNA","w":16,"v":0.7,"s":0},{"i":31,"a":"mRNA","w":24,"v":0.5,"s":0},
{"i":31,"a":"Protein","w":4,"v":0,"s":0},{"i":31,"a":"Protein","w":6,"v":0,"s":0},{"i":31,"a":"Protein","w":8,"v":0,"s":0},{"i":31,"a":"Protein","w":16,"v":0,"s":0},{"i":31,"a":"Protein","w":24,"v":0,"s":0},
{"i":32,"a":"mRNA","w":4,"v":0,"s":0},{"i":32,"a":"mRNA","w":6,"v":0,"s":0},{"i":32,"a":"mRNA","w":8,"v":0,"s":0},{"i":32,"a":"mRNA","w":16,"v":0,"s":0},{"i":32,"a":"mRNA","w":24,"v":0,"s":0},
{"i":32,"a":"Protein","w":4,"v":-1.2,"s":0},{"i":32,"a":"Protein","w":6,"v":-1.2,"s":1},{"i":32,"a":"Protein","w":8,"v":-0.8,"s":0},{"i":32,"a":"Protein","w":16,"v":-0.8,"s":0},{"i":32,"a":"Protein","w":24,"v":-1.2,"s":1},
{"i":33,"a":"mRNA","w":4,"v":0.4,"s":0},{"i":33,"a":"mRNA","w":6,"v":0.8,"s":1},{"i":33,"a":"mRNA","w":8,"v":1.1,"s":1},{"i":33,"a":"mRNA","w":16,"v":2,"s":1},{"i":33,"a":"mRNA","w":24,"v":2.3,"s":1},
{"i":33,"a":"Protein","w":4,"v":0,"s":0},{"i":33,"a":"Protein","w":6,"v":0,"s":0},{"i":33,"a":"Protein","w":8,"v":0,"s":0},{"i":33,"a":"Protein","w":16,"v":0,"s":0},{"i":33,"a":"Protein","w":24,"v":0,"s":0},
{"i":34,"a":"mRNA","w":4,"v":0.9,"s":1},{"i":34,"a":"mRNA","w":6,"v":0.8,"s":0},{"i":34,"a":"mRNA","w":8,"v":1.1,"s":1},{"i":34,"a":"mRNA","w":16,"v":1.7,"s":1},{"i":34,"a":"mRNA","w":24,"v":2.2,"s":1},
{"i":34,"a":"Protein","w":4,"v":0,"s":0},{"i":34,"a":"Protein","w":6,"v":0,"s":0},{"i":34,"a":"Protein","w":8,"v":0,"s":0},{"i":34,"a":"Protein","w":16,"v":0,"s":0},{"i":34,"a":"Protein","w":24,"v":0,"s":0},
{"i":35,"a":"mRNA","w":4,"v":0.4,"s":0},{"i":35,"a":"mRNA","w":6,"v":0.6,"s":0},{"i":35,"a":"mRNA","w":8,"v":1.1,"s":1},{"i":35,"a":"mRNA","w":16,"v":1.1,"s":1},{"i":35,"a":"mRNA","w":24,"v":1.6,"s":1},
{"i":35,"a":"Protein","w":4,"v":0,"s":0},{"i":35,"a":"Protein","w":6,"v":0,"s":0},{"i":35,"a":"Protein","w":8,"v":0,"s":0},{"i":35,"a":"Protein","w":16,"v":0,"s":0},{"i":35,"a":"Protein","w":24,"v":0,"s":0},
{"i":36,"a":"mRNA","w":4,"v":0.6,"s":0},{"i":36,"a":"mRNA","w":6,"v":0.6,"s":0},{"i":36,"a":"mRNA","w":8,"v":1.1,"s":1},{"i":36,"a":"mRNA","w":16,"v":1.6,"s":1},{"i":36,"a":"mRNA","w":24,"v":1.6,"s":1},
{"i":36,"a":"Protein","w":4,"v":0,"s":0},{"i":36,"a":"Protein","w":6,"v":0,"s":0},{"i":36,"a":"Protein","w":8,"v":0,"s":0},{"i":36,"a":"Protein","w":16,"v":0,"s":0},{"i":36,"a":"Protein","w":24,"v":0,"s":0},
{"i":37,"a":"mRNA","w":4,"v":0,"s":0},{"i":37,"a":"mRNA","w":6,"v":0.6,"s":0},{"i":37,"a":"mRNA","w":8,"v":1.1,"s":1},{"i":37,"a":"mRNA","w":16,"v":1.6,"s":1},{"i":37,"a":"mRNA","w":24,"v":1.3,"s":1},
{"i":37,"a":"Protein","w":4,"v":0,"s":0},{"i":37,"a":"Protein","w":6,"v":0,"s":0},{"i":37,"a":"Protein","w":8,"v":0,"s":0},{"i":37,"a":"Protein","w":16,"v":0,"s":0},{"i":37,"a":"Protein","w":24,"v":0,"s":0},
{"i":38,"a":"mRNA","w":4,"v":2,"s":1},{"i":38,"a":"mRNA","w":6,"v":2,"s":1},{"i":38,"a":"mRNA","w":8,"v":1.6,"s":1},{"i":38,"a":"mRNA","w":16,"v":1.7,"s":1},{"i":38,"a":"mRNA","w":24,"v":1.7,"s":1},
{"i":38,"a":"Protein","w":4,"v":0,"s":0},{"i":38,"a":"Protein","w":6,"v":0,"s":0},{"i":38,"a":"Protein","w":8,"v":0,"s":0},{"i":38,"a":"Protein","w":16,"v":0,"s":0},{"i":38,"a":"Protein","w":24,"v":0,"s":0},
{"i":39,"a":"mRNA","w":4,"v":1.7,"s":1},{"i":39,"a":"mRNA","w":6,"v":1.7,"s":1},{"i":39,"a":"mRNA","w":8,"v":1.3,"s":1},{"i":39,"a":"mRNA","w":16,"v":1.7,"s":1},{"i":39,"a":"mRNA","w":24,"v":3.3,"s":1},
{"i":39,"a":"Protein","w":4,"v":0,"s":0},{"i":39,"a":"Protein","w":6,"v":0,"s":0},{"i":39,"a":"Protein","w":8,"v":0,"s":0},{"i":39,"a":"Protein","w":16,"v":0,"s":0},{"i":39,"a":"Protein","w":24,"v":0,"s":0},
{"i":40,"a":"mRNA","w":4,"v":1.7,"s":1},{"i":40,"a":"mRNA","w":6,"v":1.7,"s":1},{"i":40,"a":"mRNA","w":8,"v":1.3,"s":1},{"i":40,"a":"mRNA","w":16,"v":1.7,"s":1},{"i":40,"a":"mRNA","w":24,"v":2.2,"s":1},
{"i":40,"a":"Protein","w":4,"v":0,"s":0},{"i":40,"a":"Protein","w":6,"v":0,"s":0},{"i":40,"a":"Protein","w":8,"v":0,"s":0},{"i":40,"a":"Protein","w":16,"v":0,"s":0},{"i":40,"a":"Protein","w":24,"v":0,"s":0},
{"i":41,"a":"mRNA","w":4,"v":1.1,"s":1},{"i":41,"a":"mRNA","w":6,"v":1.3,"s":1},{"i":41,"a":"mRNA","w":8,"v":1.3,"s":1},{"i":41,"a":"mRNA","w":16,"v":1.7,"s":1},{"i":41,"a":"mRNA","w":24,"v":2,"s":1},
{"i":41,"a":"Protein","w":4,"v":1.3,"s":1},{"i":41,"a":"Protein","w":6,"v":1.3,"s":1},{"i":41,"a":"Protein","w":8,"v":1.3,"s":1},{"i":41,"a":"Protein","w":16,"v":1.3,"s":1},{"i":41,"a":"Protein","w":24,"v":1.3,"s":1},
{"i":42,"a":"mRNA","w":4,"v":1.3,"s":1},{"i":42,"a":"mRNA","w":6,"v":2.3,"s":1},{"i":42,"a":"mRNA","w":8,"v":1.3,"s":1},{"i":42,"a":"mRNA","w":16,"v":2,"s":1},{"i":42,"a":"mRNA","w":24,"v":2.3,"s":1},
{"i":42,"a":"Protein","w":4,"v":0.9,"s":0},{"i":42,"a":"Protein","w":6,"v":1.1,"s":1},{"i":42,"a":"Protein","w":8,"v":1.3,"s":1},{"i":42,"a":"Protein","w":16,"v":1.3,"s":1},{"i":42,"a":"Protein","w":24,"v":1.6,"s":1},
{"i":43,"a":"mRNA","w":4,"v":1.1,"s":1},{"i":43,"a":"mRNA","w":6,"v":1.1,"s":1},{"i":43,"a":"mRNA","w":8,"v":0,"s":0},{"i":43,"a":"mRNA","w":16,"v":0.5,"s":0},{"i":43,"a":"mRNA","w":24,"v":1.3,"s":1},
{"i":43,"a":"Protein","w":4,"v":0.3,"s":0},{"i":43,"a":"Protein","w":6,"v":1.1,"s":1},{"i":43,"a":"Protein","w":8,"v":1.1,"s":1},{"i":43,"a":"Protein","w":16,"v":1.3,"s":1},{"i":43,"a":"Protein","w":24,"v":1.6,"s":1},
{"i":44,"a":"mRNA","w":4,"v":1.1,"s":1},{"i":44,"a":"mRNA","w":6,"v":0.5,"s":0},{"i":44,"a":"mRNA","w":8,"v":-0.6,"s":0},{"i":44,"a":"mRNA","w":16,"v":0.3,"s":0},{"i":44,"a":"mRNA","w":24,"v":1.1,"s":1},
{"i":44,"a":"Protein","w":4,"v":0,"s":0},{"i":44,"a":"Protein","w":6,"v":1.1,"s":1},{"i":44,"a":"Protein","w":8,"v":0.5,"s":0},{"i":44,"a":"Protein","w":16,"v":1.1,"s":1},{"i":44,"a":"Protein","w":24,"v":1.3,"s":1},
{"i":45,"a":"mRNA","w":4,"v":0.2,"s":0},{"i":45,"a":"mRNA","w":6,"v":0.8,"s":0},{"i":45,"a":"mRNA","w":8,"v":1.1,"s":1},{"i":45,"a":"mRNA","w":16,"v":1.3,"s":1},{"i":45,"a":"mRNA","w":24,"v":1.3,"s":1},
{"i":45,"a":"Protein","w":4,"v":1.3,"s":1},{"i":45,"a":"Protein","w":6,"v":1.3,"s":1},{"i":45,"a":"Protein","w":8,"v":1.6,"s":1},{"i":45,"a":"Protein","w":16,"v":1.3,"s":1},{"i":45,"a":"Protein","w":24,"v":1.3,"s":1},
{"i":46,"a":"mRNA","w":4,"v":0.7,"s":0},{"i":46,"a":"mRNA","w":6,"v":0.5,"s":0},{"i":46,"a":"mRNA","w":8,"v":0.9,"s":0},{"i":46,"a":"mRNA","w":16,"v":1.3,"s":1},{"i":46,"a":"mRNA","w":24,"v":0.5,"s":0},
{"i":46,"a":"Protein","w":4,"v":1.1,"s":1},{"i":46,"a":"Protein","w":6,"v":1.1,"s":1},{"i":46,"a":"Protein","w":8,"v":1.1,"s":1},{"i":46,"a":"Protein","w":16,"v":1.1,"s":1},{"i":46,"a":"Protein","w":24,"v":1.3,"s":1},
{"i":47,"a":"mRNA","w":4,"v":3,"s":1},{"i":47,"a":"mRNA","w":6,"v":1.3,"s":1},{"i":47,"a":"mRNA","w":8,"v":1.1,"s":1},{"i":47,"a":"mRNA","w":16,"v":0.4,"s":0},{"i":47,"a":"mRNA","w":24,"v":-1,"s":1},
{"i":47,"a":"Protein","w":4,"v":3.3,"s":1},{"i":47,"a":"Protein","w":6,"v":3.3,"s":1},{"i":47,"a":"Protein","w":8,"v":5,"s":1},{"i":47,"a":"Protein","w":16,"v":4,"s":1},{"i":47,"a":"Protein","w":24,"v":5.5,"s":1},
{"i":48,"a":"mRNA","w":4,"v":0.2,"s":0},{"i":48,"a":"mRNA","w":6,"v":2.3,"s":1},{"i":48,"a":"mRNA","w":8,"v":2.8,"s":1},{"i":48,"a":"mRNA","w":16,"v":4,"s":1},{"i":48,"a":"mRNA","w":24,"v":3.3,"s":1},
{"i":48,"a":"Protein","w":4,"v":3.3,"s":1},{"i":48,"a":"Protein","w":6,"v":5,"s":1},{"i":48,"a":"Protein","w":8,"v":5,"s":1},{"i":48,"a":"Protein","w":16,"v":4,"s":1},{"i":48,"a":"Protein","w":24,"v":6,"s":1}
]
},
"layer": [
{
"data": {"name": "dendro"},
"mark": {"type": "rule", "strokeWidth": 1.5, "strokeCap": "square"},
"encoding": {
"x": {"field": "h1", "type": "quantitative", "scale": {"domain": [0, 48], "range": [49, 1], "nice": false, "zero": false}, "axis": null},
"x2": {"field": "h2"},
"y": {"field": "u1", "type": "quantitative", "scale": {"domain": [0, 48], "range": [66, 871], "nice": false, "zero": false}, "axis": null},
"y2": {"field": "u2"},
"stroke": {"field": "k", "type": "nominal", "scale": {"domain": ["R", "A", "B"], "range": ["#000000", "#3a9ad9", "#b030d0"]}, "legend": null}
}
},
{
"layer": [
{
"layer": [
{
"data": {"name": "cells"},
"mark": {"type": "rect", "stroke": "#d0d0d0", "strokeWidth": 1.5},
"encoding": {
"x": {"field": "a", "type": "nominal", "scale": {"type": "band", "domain": ["mRNA", "Protein"], "range": [67, 236], "paddingInner": 0, "paddingOuter": 0}, "axis": null},
"xOffset": {"field": "w", "type": "ordinal", "scale": {"type": "band", "domain": [4, 6, 8, 16, 24], "paddingInner": 0, "paddingOuter": 0}},
"y": {"field": "i", "type": "ordinal", "scale": {"type": "band", "range": [66, 871], "paddingInner": 0, "paddingOuter": 0}, "axis": null},
"color": {"field": "v", "type": "quantitative",
"scale": {"domain": [-6.9, 0, 7.6], "range": ["#16167a", "#ffffff", "#c3161e"], "interpolate": "lab"},
"legend": {"title": "Stat.mean", "orient": "none", "legendX": 43, "legendY": 897, "direction": "vertical",
"gradientLength": 153, "gradientThickness": 9, "gradientStrokeWidth": 0,
"values": [6, 4, 2, 0, -2, -4, -6], "labelExpr": "replace(datum.label, '\u2212', '-')",
"labelFontSize": 16, "labelFont": "Liberation Sans", "labelColor": "#000000", "labelOffset": 3,
"titleFontSize": 16, "titleFont": "Liberation Sans", "titleFontWeight": "bold", "titleColor": "#000000", "titlePadding": 13, "padding": 0,
"encode": {"title": {"update": {"dx": {"value": -22}}}}}
}
}
},
{
"data": {"name": "cells"},
"transform": [{"filter": "datum.s == 1"}],
"mark": {"type": "text", "text": "★", "fill": "#ffffff", "fontSize": 9, "font": "DejaVu Sans", "baseline": "middle", "align": "center", "dx": 3},
"encoding": {
"x": {"field": "a", "type": "nominal"},
"xOffset": {"field": "w", "type": "ordinal"},
"y": {"field": "i", "type": "ordinal"}
}
},
{
"data": {"name": "paths"},
"mark": {"type": "text", "align": "left", "baseline": "middle", "dx": 4, "fontSize": 12.8, "font": "Liberation Sans Narrow, Arial Narrow, DejaVu Sans Condensed, sans-serif", "fill": "#000000"},
"encoding": {
"x": {"datum": "Protein", "type": "nominal", "bandPosition": 1},
"y": {"field": "i", "type": "ordinal"},
"text": {"field": "p"}
}
}
]
},
{
"data": {"name": "paths"},
"mark": {"type": "rect", "stroke": "#ffffff", "strokeWidth": 0.6},
"encoding": {
"x": {"datum": "Class", "type": "nominal", "scale": {"type": "band", "domain": ["Class"], "range": [50.5, 62.5], "paddingInner": 0, "paddingOuter": 0}, "axis": null},
"y": {"field": "i", "type": "ordinal"},
"fill": {"field": "c", "type": "nominal",
"scale": {"domain": ["Cellular Processes", "Diseases", "Environmental Information Processing", "Genetic Information Processing", "Metabolism", "Organismal Systems"],
"range": ["#f87cf0", "#1ecbf0", "#f6a30c", "#c8a6f6", "#19d2b1", "#f47fcb"]},
"legend": {"title": "Class", "orient": "none", "legendX": 175, "legendY": 891, "symbolType": "square", "symbolSize": 961, "symbolOffset": 14,
"symbolStrokeWidth": 0, "rowPadding": 0, "labelFontSize": 16.5, "labelFont": "Liberation Sans", "labelColor": "#000000",
"labelOffset": 6, "labelLimit": 400, "titleFontSize": 16, "titleFont": "Liberation Sans", "titleFontWeight": "bold", "titleColor": "#000000", "titlePadding": 4, "padding": 0}
}
}
}
],
"resolve": {"scale": {"x": "independent"}}
},
{
"data": {"values": [{}]},
"mark": {"type": "rule", "stroke": "#3a2828", "strokeWidth": 2},
"encoding": {
"x": {"datum": "Protein", "type": "nominal", "bandPosition": 0, "scale": {"type": "band", "domain": ["mRNA", "Protein"], "range": [67, 236], "paddingInner": 0, "paddingOuter": 0}, "axis": null},
"y": {"datum": 0, "type": "quantitative", "scale": {"domain": [0, 48], "range": [66, 871], "nice": false, "zero": false}, "axis": null},
"y2": {"datum": 48}
}
},
{
"layer": [
{
"data": {"name": "weeks"},
"mark": {"type": "text", "fontSize": 14, "fontWeight": "bold", "baseline": "middle", "fill": "#111111", "font": "Liberation Sans"},
"encoding": {
"x": {"field": "a", "type": "nominal", "scale": {"type": "band", "domain": ["mRNA", "Protein"], "range": [67, 236], "paddingInner": 0, "paddingOuter": 0}, "axis": null},
"xOffset": {"field": "w", "type": "ordinal", "scale": {"type": "band", "domain": [4, 6, 8, 16, 24], "paddingInner": 0, "paddingOuter": 0}},
"y": {"datum": "num", "type": "nominal", "scale": {"type": "band", "domain": ["num", "shade", "bar"], "range": [3, 55], "paddingInner": 0.15, "paddingOuter": 0}, "axis": null},
"text": {"field": "w"}
}
},
{
"data": {"name": "weeks"},
"mark": {"type": "square", "size": 180, "filled": true, "opacity": 1},
"encoding": {
"x": {"field": "a", "type": "nominal"},
"xOffset": {"field": "w", "type": "ordinal"},
"y": {"datum": "shade", "type": "nominal"},
"color": {"field": "w", "type": "ordinal", "scale": {"domain": [4, 6, 8, 16, 24], "range": ["#d0d0d0", "#a0a0a0", "#6e6e6e", "#3a3a3a", "#0a0a0a"]}, "legend": null}
}
},
{
"data": {"name": "assays"},
"mark": {"type": "rect", "stroke": "#000000", "strokeWidth": 2},
"encoding": {
"x": {"field": "a", "type": "nominal"},
"y": {"datum": "bar", "type": "nominal"},
"fill": {"field": "a", "type": "nominal", "scale": {"domain": ["mRNA", "Protein"], "range": ["#a9a4d4", "#c8b70c"]}, "legend": null}
}
},
{
"data": {"name": "assays"},
"mark": {"type": "text", "fontSize": 15, "fontWeight": "bold", "fill": "#ffffff", "baseline": "middle", "font": "Liberation Sans"},
"encoding": {
"x": {"field": "a", "type": "nominal"},
"y": {"datum": "bar", "type": "nominal"},
"text": {"field": "a"}
}
},
{
"data": {"values": [{"t": "Week"}]},
"mark": {"type": "text", "fontSize": 16, "align": "left", "baseline": "middle", "dx": 7, "fill": "#000000", "font": "Liberation Sans"},
"encoding": {
"x": {"datum": "Protein", "type": "nominal", "bandPosition": 1},
"y": {"datum": "shade", "type": "nominal"},
"text": {"field": "t"}
}
}
]
}
],
"resolve": {"scale": {"x": "independent", "y": "independent", "color": "independent", "fill": "independent", "stroke": "independent", "xOffset": "independent"}}
}
